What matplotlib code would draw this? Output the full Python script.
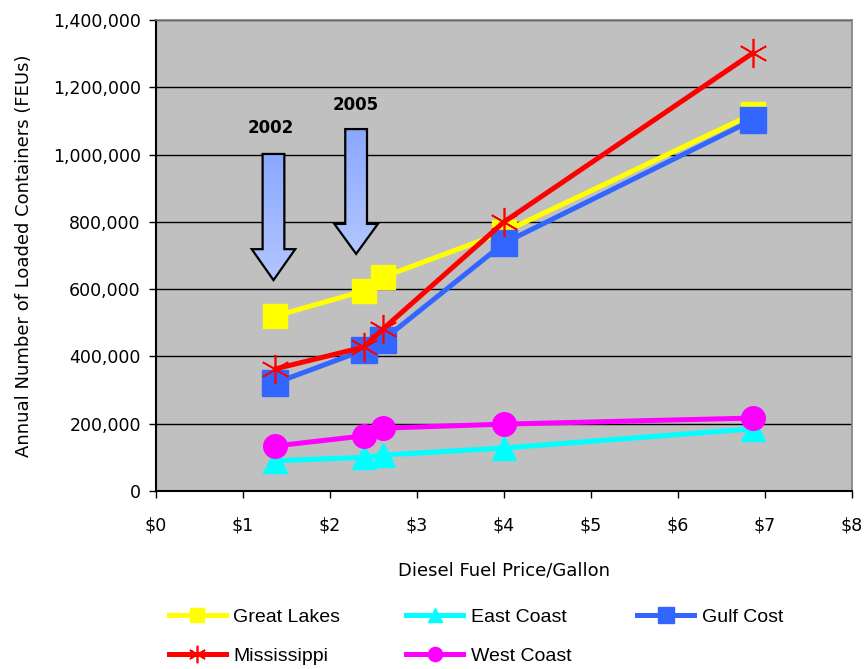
import numpy as np
import matplotlib
matplotlib.use("Agg")
import matplotlib.pyplot as plt
from matplotlib.patches import Polygon
from matplotlib.colors import LinearSegmentedColormap
from matplotlib.ticker import FuncFormatter

plt.rcParams['font.family'] = ['DejaVu Sans']

# fuel price per gallon ($)
price = [1.37, 2.39, 2.61, 4.0, 6.86]

great_lakes = [520000, 595000, 636000, 770000, 1121000]
east_coast = [90000, 100000, 107000, 128000, 185000]
gulf_cost = [321000, 419000, 449000, 737000, 1103000]
mississippi = [363000, 428000, 482000, 800000, 1302000]
west_coast = [134000, 164000, 187000, 199000, 217000]

# arrows marking the years
arrow_years = ['2002', '2005']
arrow_x = [1.35, 2.30]
arrow_top = [1002000, 1076000]
arrow_neck = [719000, 794000]
arrow_tip = [627000, 705000]
label_x = [1.32, 2.30]
label_y = [1079000, 1147000]

fig = plt.figure(figsize=(8.64, 6.69), dpi=100)
ax = fig.add_axes([0.1806, 0.266, 0.8055, 0.704])
ax.set_facecolor('#c0c0c0')

lw = 3.6
h_gl, = ax.plot(price, great_lakes, color='#ffff00', lw=lw, marker='s', ms=17,
                mec='#ffff00', label='Great Lakes', zorder=3)
h_ec, = ax.plot(price, east_coast, color='#00ffff', lw=lw, marker='^', ms=17,
                mec='#00ffff', label='East Coast', zorder=3)
h_gc, = ax.plot(price, gulf_cost, color='#3366ff', lw=lw, marker='s', ms=19,
                mec='#3366ff', label='Gulf Cost', zorder=3)
h_mi, = ax.plot(price, mississippi, color='#ff0000', lw=lw, marker=(6, 2, 0), ms=21,
                mec='#ff0000', mew=1.2, label='Mississippi', zorder=3)
h_wc, = ax.plot(price, west_coast, color='#ff00ff', lw=lw, marker='o', ms=17,
                mec='#ff00ff', label='West Coast', zorder=3)

# gradient arrows
grad = np.linspace(0, 1, 256).reshape(-1, 1)
cmap = LinearSegmentedColormap.from_list('arr', ['#b3c6ff', '#8aa8ff'])
for i in range(len(arrow_years)):
    cx = arrow_x[i]
    sw, hw = 0.125, 0.25
    pts = [(cx - sw, arrow_top[i]), (cx + sw, arrow_top[i]), (cx + sw, arrow_neck[i]),
           (cx + hw, arrow_neck[i]), (cx, arrow_tip[i]), (cx - hw, arrow_neck[i]),
           (cx - sw, arrow_neck[i])]
    poly = Polygon(pts, closed=True, facecolor='none', edgecolor='black', lw=1.6, zorder=5)
    ax.add_patch(poly)
    im = ax.imshow(grad, cmap=cmap, aspect='auto', origin='lower',
                   extent=[cx - hw, cx + hw, arrow_tip[i], arrow_top[i]], zorder=4)
    im.set_clip_path(poly)
    ax.text(label_x[i], label_y[i], arrow_years[i], ha='center', va='center',
            fontsize=12, fontweight='bold', zorder=6)

ax.set_xlim(0, 8)
ax.set_ylim(0, 1400000)
ax.set_xticks(range(0, 9))
ax.xaxis.set_major_formatter(FuncFormatter(lambda v, p: f'${int(v)}'))
ax.set_yticks(range(0, 1400001, 200000))
ax.yaxis.set_major_formatter(FuncFormatter(lambda v, p: f'{int(v):,}'))
ax.grid(axis='y', color='black', lw=1.0)
ax.set_axisbelow(True)
ax.tick_params(labelsize=12.5, direction='out', length=5, width=1)
ax.tick_params(axis='x', pad=13)
ax.tick_params(axis='y', pad=6)

for s in ['top', 'right']:
    ax.spines[s].set_color('#808080')
    ax.spines[s].set_linewidth(1.2)
for s in ['left', 'bottom']:
    ax.spines[s].set_color('black')
    ax.spines[s].set_linewidth(1.5)

ax.set_xlabel('Diesel Fuel Price/Gallon', fontsize=13, labelpad=20)
ax.set_ylabel('Annual Number of Loaded Containers (FEUs)', fontsize=13, labelpad=14)

handles = [h_gl, h_mi, h_ec, h_wc, h_gc]
fig.legend(handles=handles, labels=[h.get_label() for h in handles], ncol=3,
           loc='center', bbox_to_anchor=(0.551, 0.048), frameon=False,
           prop={'family': 'Liberation Sans', 'size': 14},
           handlelength=2.9, markerscale=0.6, columnspacing=3.4, labelspacing=1.1,
           handletextpad=0.4)

fig.savefig('out.png', dpi=100)
